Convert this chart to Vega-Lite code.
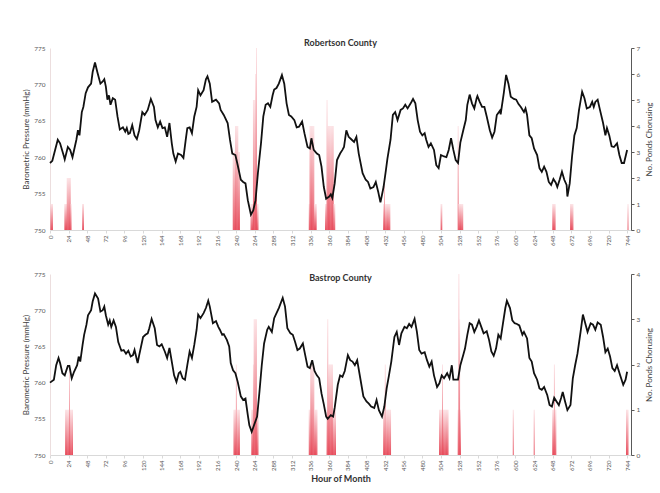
{
  "$schema": "https://vega.github.io/schema/vega-lite/v6.json",
  "background": "white",
  "padding": {"left": 22, "top": 39, "right": 0, "bottom": 0},
  "config": {
    "view": {"stroke": null},
    "font": "Lato",
    "axis": {"grid": false, "labelFont": "Lato", "titleFont": "Lato"},
    "title": {"font": "Lato", "fontSize": 9, "fontWeight": "bold", "color": "#333333"}
  },
  "spacing": 25,
  "datasets": {
    "rob_p": [
      {"h":0,"p":759.2},{"h":3,"p":759.5},{"h":10,"p":762.4},{"h":13,"p":761.9},{"h":18,"p":760.1},{"h":19,"p":759.7},{"h":23,"p":761.4},{"h":26,"p":761.0},{"h":29,"p":760.0},{"h":34,"p":762.4},{"h":36,"p":763.7},{"h":38,"p":763.0},{"h":41,"p":766.2},{"h":43,"p":766.9},{"h":46,"p":768.8},{"h":49,"p":769.6},{"h":53,"p":770.1},{"h":55,"p":771.7},{"h":58,"p":773.0},{"h":61,"p":771.7},{"h":65,"p":770.1},{"h":68,"p":770.4},{"h":70,"p":770.7},{"h":72,"p":769.7},{"h":74,"p":767.9},{"h":76,"p":768.5},{"h":78,"p":767.2},{"h":81,"p":768.1},{"h":84,"p":767.9},{"h":87,"p":765.6},{"h":90,"p":763.8},{"h":94,"p":764.1},{"h":97,"p":763.5},{"h":99,"p":764.0},{"h":101,"p":763.2},{"h":103,"p":763.3},{"h":106,"p":764.4},{"h":109,"p":763.0},{"h":112,"p":762.5},{"h":115,"p":763.7},{"h":119,"p":766.2},{"h":122,"p":765.8},{"h":126,"p":766.5},{"h":130,"p":768.0},{"h":134,"p":766.9},{"h":136,"p":765.1},{"h":139,"p":764.1},{"h":142,"p":764.9},{"h":145,"p":764.0},{"h":148,"p":764.1},{"h":151,"p":762.8},{"h":154,"p":764.7},{"h":157,"p":761.9},{"h":159,"p":760.5},{"h":162,"p":759.4},{"h":165,"p":760.5},{"h":169,"p":760.3},{"h":172,"p":759.9},{"h":175,"p":762.4},{"h":177,"p":764.0},{"h":180,"p":764.1},{"h":183,"p":763.3},{"h":186,"p":765.6},{"h":189,"p":766.9},{"h":191,"p":769.2},{"h":194,"p":768.5},{"h":198,"p":769.2},{"h":201,"p":770.7},{"h":203,"p":771.1},{"h":206,"p":770.1},{"h":209,"p":767.6},{"h":214,"p":767.9},{"h":218,"p":767.4},{"h":220,"p":766.5},{"h":224,"p":765.8},{"h":229,"p":764.7},{"h":232,"p":762.4},{"h":235,"p":760.5},{"h":239,"p":760.3},{"h":242,"p":758.9},{"h":246,"p":756.9},{"h":249,"p":756.6},{"h":252,"p":756.4},{"h":255,"p":754.1},{"h":259,"p":752.1},{"h":262,"p":752.7},{"h":265,"p":754.1},{"h":268,"p":757.8},{"h":272,"p":761.9},{"h":275,"p":765.6},{"h":278,"p":767.2},{"h":281,"p":767.4},{"h":284,"p":766.9},{"h":287,"p":768.5},{"h":289,"p":769.3},{"h":292,"p":769.5},{"h":295,"p":770.1},{"h":299,"p":771.3},{"h":302,"p":770.1},{"h":305,"p":767.4},{"h":308,"p":765.8},{"h":311,"p":765.6},{"h":315,"p":765.1},{"h":318,"p":764.1},{"h":321,"p":764.2},{"h":325,"p":764.9},{"h":328,"p":763.3},{"h":332,"p":761.4},{"h":335,"p":761.2},{"h":337,"p":762.6},{"h":340,"p":761.0},{"h":344,"p":760.5},{"h":347,"p":760.3},{"h":350,"p":758.7},{"h":353,"p":755.9},{"h":356,"p":754.3},{"h":360,"p":754.6},{"h":362,"p":754.9},{"h":364,"p":754.4},{"h":367,"p":756.4},{"h":370,"p":759.6},{"h":374,"p":760.5},{"h":377,"p":761.0},{"h":379,"p":761.4},{"h":382,"p":763.7},{"h":385,"p":762.8},{"h":388,"p":762.5},{"h":392,"p":762.1},{"h":395,"p":762.8},{"h":398,"p":760.5},{"h":403,"p":757.8},{"h":407,"p":756.9},{"h":410,"p":756.6},{"h":413,"p":755.7},{"h":417,"p":755.9},{"h":420,"p":756.6},{"h":423,"p":755.3},{"h":426,"p":753.8},{"h":430,"p":755.9},{"h":433,"p":758.2},{"h":435,"p":759.8},{"h":439,"p":762.4},{"h":442,"p":765.8},{"h":445,"p":766.2},{"h":448,"p":765.1},{"h":452,"p":766.5},{"h":455,"p":766.7},{"h":458,"p":767.2},{"h":461,"p":766.7},{"h":465,"p":767.4},{"h":468,"p":768.0},{"h":471,"p":767.4},{"h":474,"p":765.1},{"h":477,"p":763.5},{"h":480,"p":763.0},{"h":483,"p":763.3},{"h":485,"p":762.4},{"h":488,"p":761.4},{"h":491,"p":761.9},{"h":495,"p":761.0},{"h":498,"p":758.9},{"h":501,"p":758.5},{"h":504,"p":760.3},{"h":508,"p":760.1},{"h":511,"p":760.0},{"h":514,"p":761.0},{"h":517,"p":762.6},{"h":520,"p":761.0},{"h":523,"p":759.6},{"h":526,"p":759.2},{"h":529,"p":762.0},{"h":533,"p":763.8},{"h":536,"p":765.1},{"h":538,"p":767.2},{"h":541,"p":768.6},{"h":544,"p":767.4},{"h":547,"p":766.7},{"h":550,"p":768.1},{"h":551,"p":768.4},{"h":554,"p":767.6},{"h":557,"p":766.9},{"h":560,"p":766.9},{"h":563,"p":765.6},{"h":567,"p":763.7},{"h":570,"p":762.7},{"h":573,"p":763.5},{"h":576,"p":765.8},{"h":580,"p":766.4},{"h":581,"p":765.9},{"h":585,"p":768.8},{"h":588,"p":771.3},{"h":591,"p":770.1},{"h":594,"p":768.3},{"h":598,"p":768.0},{"h":601,"p":767.9},{"h":604,"p":767.3},{"h":607,"p":766.9},{"h":611,"p":766.2},{"h":613,"p":766.7},{"h":615,"p":765.8},{"h":618,"p":763.0},{"h":621,"p":762.6},{"h":624,"p":761.2},{"h":628,"p":760.3},{"h":631,"p":758.5},{"h":634,"p":758.0},{"h":637,"p":758.7},{"h":640,"p":758.0},{"h":643,"p":756.6},{"h":646,"p":756.2},{"h":649,"p":757.0},{"h":652,"p":756.5},{"h":654,"p":755.9},{"h":657,"p":756.9},{"h":660,"p":758.0},{"h":663,"p":756.9},{"h":666,"p":756.2},{"h":667,"p":754.6},{"h":670,"p":756.4},{"h":673,"p":760.1},{"h":676,"p":763.0},{"h":679,"p":764.0},{"h":682,"p":766.5},{"h":686,"p":769.0},{"h":689,"p":768.1},{"h":692,"p":766.7},{"h":696,"p":766.9},{"h":699,"p":767.6},{"h":701,"p":766.9},{"h":703,"p":767.6},{"h":706,"p":767.9},{"h":709,"p":766.5},{"h":713,"p":764.7},{"h":716,"p":763.0},{"h":718,"p":764.0},{"h":721,"p":763.0},{"h":724,"p":761.5},{"h":727,"p":761.4},{"h":731,"p":761.9},{"h":734,"p":760.3},{"h":737,"p":759.2},{"h":740,"p":759.2},{"h":744,"p":761.0}
    ],
    "bas_p": [
      {"h":0,"p":760.0},{"h":5,"p":760.4},{"h":8,"p":762.4},{"h":11,"p":763.4},{"h":13,"p":762.7},{"h":16,"p":761.3},{"h":19,"p":761.0},{"h":23,"p":762.3},{"h":25,"p":762.3},{"h":28,"p":760.6},{"h":31,"p":761.5},{"h":35,"p":762.4},{"h":37,"p":763.6},{"h":39,"p":762.9},{"h":42,"p":765.2},{"h":44,"p":766.6},{"h":47,"p":768.0},{"h":49,"p":769.3},{"h":53,"p":770.0},{"h":55,"p":771.2},{"h":58,"p":772.3},{"h":62,"p":771.6},{"h":65,"p":769.8},{"h":68,"p":770.0},{"h":70,"p":770.5},{"h":72,"p":769.3},{"h":75,"p":768.0},{"h":77,"p":768.6},{"h":79,"p":767.7},{"h":82,"p":768.6},{"h":85,"p":767.7},{"h":88,"p":765.6},{"h":92,"p":764.4},{"h":95,"p":764.5},{"h":98,"p":764.0},{"h":101,"p":764.4},{"h":104,"p":763.6},{"h":107,"p":763.8},{"h":109,"p":764.5},{"h":113,"p":762.7},{"h":115,"p":763.8},{"h":120,"p":766.3},{"h":123,"p":766.6},{"h":126,"p":766.8},{"h":128,"p":767.5},{"h":131,"p":768.8},{"h":135,"p":767.5},{"h":138,"p":765.2},{"h":141,"p":765.0},{"h":144,"p":765.3},{"h":148,"p":764.3},{"h":151,"p":763.4},{"h":154,"p":764.8},{"h":157,"p":762.9},{"h":160,"p":761.0},{"h":163,"p":760.1},{"h":166,"p":761.3},{"h":168,"p":761.5},{"h":171,"p":760.6},{"h":174,"p":760.4},{"h":177,"p":762.4},{"h":180,"p":764.3},{"h":183,"p":763.4},{"h":186,"p":765.2},{"h":189,"p":767.3},{"h":191,"p":769.4},{"h":194,"p":768.9},{"h":198,"p":769.6},{"h":201,"p":770.3},{"h":204,"p":771.3},{"h":206,"p":770.5},{"h":210,"p":768.2},{"h":214,"p":768.5},{"h":217,"p":767.7},{"h":219,"p":767.3},{"h":222,"p":766.6},{"h":224,"p":766.7},{"h":228,"p":765.9},{"h":231,"p":765.0},{"h":233,"p":762.7},{"h":236,"p":761.7},{"h":239,"p":761.3},{"h":242,"p":760.1},{"h":246,"p":758.1},{"h":249,"p":757.6},{"h":252,"p":757.8},{"h":255,"p":755.5},{"h":257,"p":754.1},{"h":260,"p":753.2},{"h":263,"p":754.1},{"h":267,"p":755.3},{"h":270,"p":758.7},{"h":273,"p":762.4},{"h":276,"p":765.4},{"h":280,"p":767.3},{"h":282,"p":767.7},{"h":286,"p":767.0},{"h":289,"p":768.9},{"h":292,"p":769.6},{"h":295,"p":770.3},{"h":300,"p":771.7},{"h":303,"p":770.5},{"h":306,"p":767.5},{"h":310,"p":766.8},{"h":313,"p":766.6},{"h":316,"p":765.6},{"h":319,"p":764.5},{"h":322,"p":764.7},{"h":326,"p":765.4},{"h":329,"p":763.8},{"h":332,"p":762.2},{"h":335,"p":762.0},{"h":338,"p":763.1},{"h":341,"p":761.6},{"h":344,"p":761.0},{"h":347,"p":760.6},{"h":350,"p":758.5},{"h":353,"p":757.0},{"h":356,"p":755.3},{"h":358,"p":755.0},{"h":362,"p":755.5},{"h":365,"p":755.3},{"h":367,"p":756.5},{"h":371,"p":759.7},{"h":374,"p":761.0},{"h":377,"p":760.8},{"h":380,"p":761.6},{"h":384,"p":763.8},{"h":387,"p":763.1},{"h":390,"p":762.9},{"h":393,"p":762.4},{"h":396,"p":763.1},{"h":400,"p":760.6},{"h":404,"p":758.1},{"h":408,"p":757.4},{"h":411,"p":757.1},{"h":414,"p":756.7},{"h":418,"p":756.5},{"h":421,"p":757.6},{"h":424,"p":756.2},{"h":428,"p":755.3},{"h":431,"p":756.7},{"h":434,"p":759.2},{"h":437,"p":761.0},{"h":440,"p":762.9},{"h":444,"p":766.3},{"h":447,"p":767.0},{"h":450,"p":765.2},{"h":453,"p":766.8},{"h":457,"p":767.7},{"h":460,"p":767.5},{"h":463,"p":768.1},{"h":466,"p":767.7},{"h":470,"p":768.8},{"h":473,"p":767.0},{"h":476,"p":764.5},{"h":479,"p":764.0},{"h":483,"p":764.2},{"h":486,"p":763.1},{"h":489,"p":762.2},{"h":492,"p":762.9},{"h":495,"p":761.0},{"h":499,"p":759.4},{"h":502,"p":759.9},{"h":505,"p":761.0},{"h":508,"p":760.6},{"h":512,"p":761.3},{"h":515,"p":760.6},{"h":518,"p":762.4},{"h":520,"p":760.4},{"h":526,"p":760.4},{"h":529,"p":762.4},{"h":533,"p":763.9},{"h":535,"p":764.7},{"h":538,"p":766.6},{"h":541,"p":768.2},{"h":544,"p":768.0},{"h":547,"p":767.0},{"h":550,"p":767.7},{"h":553,"p":768.6},{"h":556,"p":767.7},{"h":559,"p":766.8},{"h":563,"p":767.1},{"h":566,"p":765.9},{"h":569,"p":764.3},{"h":572,"p":763.7},{"h":575,"p":764.7},{"h":578,"p":766.6},{"h":581,"p":766.1},{"h":584,"p":768.2},{"h":587,"p":770.3},{"h":589,"p":771.3},{"h":593,"p":770.3},{"h":596,"p":768.6},{"h":599,"p":768.2},{"h":602,"p":768.1},{"h":605,"p":767.9},{"h":609,"p":766.6},{"h":611,"p":767.0},{"h":615,"p":766.1},{"h":618,"p":763.4},{"h":621,"p":762.9},{"h":624,"p":761.3},{"h":628,"p":760.4},{"h":631,"p":759.2},{"h":634,"p":759.0},{"h":637,"p":759.4},{"h":641,"p":758.3},{"h":644,"p":756.9},{"h":647,"p":756.7},{"h":650,"p":757.9},{"h":653,"p":757.4},{"h":656,"p":756.9},{"h":659,"p":757.9},{"h":661,"p":758.7},{"h":664,"p":757.4},{"h":667,"p":756.2},{"h":671,"p":756.9},{"h":674,"p":760.6},{"h":677,"p":762.4},{"h":680,"p":764.0},{"h":684,"p":767.0},{"h":687,"p":769.4},{"h":690,"p":768.2},{"h":693,"p":767.0},{"h":697,"p":768.2},{"h":700,"p":768.0},{"h":703,"p":767.3},{"h":706,"p":768.3},{"h":710,"p":768.0},{"h":713,"p":766.3},{"h":716,"p":764.2},{"h":719,"p":764.7},{"h":722,"p":763.6},{"h":725,"p":762.0},{"h":728,"p":761.6},{"h":731,"p":762.4},{"h":735,"p":761.0},{"h":739,"p":759.7},{"h":742,"p":760.4},{"h":744,"p":761.5}
    ],
    "rob_n": [
      {"h":0,"n":1},{"h":1,"n":1},{"h":2,"n":1},
      {"h":18,"n":1},{"h":19,"n":1},{"h":20,"n":1},{"h":21,"n":2},{"h":22,"n":2},{"h":23,"n":2},{"h":24,"n":2},{"h":25,"n":2},{"h":26,"n":1},
      {"h":41,"n":1},{"h":42,"n":1},
      {"h":235,"n":3},{"h":236,"n":3},{"h":237,"n":3},{"h":238,"n":4},{"h":239,"n":4},{"h":240,"n":4},{"h":241,"n":4},{"h":242,"n":3},{"h":243,"n":3},
      {"h":258,"n":1},{"h":259,"n":1},{"h":260,"n":1},{"h":261,"n":5},{"h":262,"n":5},{"h":263,"n":5},{"h":264,"n":6},{"h":265,"n":7},{"h":266,"n":1},{"h":267,"n":1},
      {"h":333,"n":1},{"h":334,"n":4},{"h":335,"n":4},{"h":336,"n":4},{"h":337,"n":4},{"h":338,"n":4},{"h":339,"n":4},{"h":340,"n":1},{"h":341,"n":1},{"h":342,"n":1},
      {"h":354,"n":1},{"h":355,"n":1},{"h":356,"n":5},{"h":357,"n":4},{"h":358,"n":4},{"h":359,"n":4},{"h":360,"n":4},{"h":361,"n":4},{"h":362,"n":4},{"h":363,"n":4},{"h":364,"n":4},{"h":365,"n":1},{"h":366,"n":1},
      {"h":429,"n":1},{"h":430,"n":2},{"h":431,"n":1},{"h":432,"n":1},{"h":433,"n":1},{"h":434,"n":1},{"h":435,"n":1},{"h":436,"n":1},{"h":437,"n":1},
      {"h":503,"n":1},{"h":504,"n":1},
      {"h":525,"n":4},{"h":526,"n":1},{"h":527,"n":1},{"h":528,"n":1},{"h":529,"n":1},{"h":530,"n":1},{"h":531,"n":1},
      {"h":647,"n":1},{"h":648,"n":1},{"h":649,"n":1},{"h":650,"n":1},
      {"h":670,"n":1},{"h":671,"n":1},{"h":672,"n":1},{"h":673,"n":1},
      {"h":744,"n":1}
    ],
    "bas_n": [
      {"h":19,"n":1},{"h":20,"n":1},{"h":21,"n":1},{"h":22,"n":1},{"h":23,"n":1},{"h":24,"n":2},{"h":25,"n":1},{"h":26,"n":1},{"h":27,"n":1},{"h":28,"n":1},
      {"h":236,"n":1},{"h":237,"n":1},{"h":238,"n":1},{"h":239,"n":2},{"h":240,"n":1},{"h":241,"n":1},{"h":242,"n":1},{"h":243,"n":1},
      {"h":259,"n":1},{"h":260,"n":1},{"h":261,"n":2},{"h":262,"n":3},{"h":263,"n":3},{"h":264,"n":3},{"h":265,"n":3},{"h":266,"n":1},{"h":267,"n":1},
      {"h":333,"n":1},{"h":334,"n":1},{"h":335,"n":2},{"h":336,"n":2},{"h":337,"n":2},{"h":338,"n":2},{"h":339,"n":2},{"h":340,"n":1},{"h":341,"n":1},{"h":342,"n":1},{"h":343,"n":1},
      {"h":356,"n":1},{"h":357,"n":3},{"h":358,"n":2},{"h":359,"n":2},{"h":360,"n":2},{"h":361,"n":2},{"h":362,"n":2},{"h":363,"n":2},{"h":364,"n":1},{"h":365,"n":1},{"h":366,"n":1},{"h":367,"n":1},
      {"h":429,"n":1},{"h":430,"n":1},{"h":431,"n":2},{"h":432,"n":1},{"h":433,"n":1},{"h":434,"n":1},{"h":435,"n":1},{"h":436,"n":1},{"h":437,"n":1},{"h":438,"n":1},
      {"h":501,"n":1},{"h":502,"n":1},{"h":503,"n":1},{"h":504,"n":1},{"h":505,"n":2},{"h":506,"n":1},{"h":507,"n":1},{"h":508,"n":1},{"h":509,"n":1},{"h":510,"n":1},{"h":511,"n":1},{"h":512,"n":1},
      {"h":525,"n":1},{"h":526,"n":4},{"h":527,"n":3},{"h":528,"n":1},
      {"h":596,"n":1},
      {"h":623,"n":1},
      {"h":647,"n":1},{"h":648,"n":1},{"h":649,"n":2},{"h":650,"n":1},{"h":651,"n":1},
      {"h":742,"n":1},{"h":743,"n":1},{"h":744,"n":1}
    ]
  },
  "vconcat": [
    {
      "width": 581,
      "height": 182,
      "title": {"text": "Robertson County", "offset": -3},
      "layer": [
        {
          "data": {"name": "rob_n"},
          "mark": {"type": "bar", "binSpacing": 0, "color": {"gradient": "linear", "x1": 0, "y1": 1, "x2": 0, "y2": 0, "stops": [{"offset": 0, "color": "#e2273a"}, {"offset": 1, "color": "#fbdde0"}]}},
          "encoding": {
            "x": {"field": "h", "type": "quantitative", "bin": {"binned": true, "step": 1}, "scale": {"domain": [0, 749]},
              "axis": {"title": null, "values": [0,24,48,72,96,120,144,168,192,216,240,264,288,312,336,360,384,408,432,456,480,504,528,552,576,600,624,648,672,696,720,744], "labelAngle": -90, "labelFontSize": 6, "labelColor": "#595959", "domainColor": "#d9d9d9", "tickColor": "#d9d9d9", "tickSize": 3, "labelPadding": 2, "labelFlush": false, "labelOverlap": false, "labelBound": false}},
            "y": {"field": "n", "type": "quantitative", "scale": {"domain": [0, 7]},
              "axis": {"orient": "right", "values": [0,1,2,3,4,5,6,7], "title": "No. Ponds Chorusing", "titleAngle": 270, "titleBaseline": "top", "titleFontSize": 8, "titleFontWeight": "normal", "titleColor": "#404040", "labelFontSize": 6.5, "labelColor": "#595959", "domainColor": "#595959", "tickColor": "#595959", "tickSize": 3, "labelPadding": 2, "titlePadding": 6}}
          }
        },
        {
          "data": {"name": "rob_p"},
          "mark": {"type": "line", "color": "#111111", "strokeWidth": 1.8},
          "encoding": {
            "x": {"field": "h", "type": "quantitative", "scale": {"domain": [0, 749]},
              "axis": {"title": null, "values": [0,24,48,72,96,120,144,168,192,216,240,264,288,312,336,360,384,408,432,456,480,504,528,552,576,600,624,648,672,696,720,744], "labelAngle": -90, "labelFontSize": 6, "labelColor": "#595959", "domainColor": "#d9d9d9", "tickColor": "#d9d9d9", "tickSize": 3, "labelPadding": 2, "labelFlush": false, "labelOverlap": false, "labelBound": false}},
            "y": {"field": "p", "type": "quantitative", "scale": {"domain": [750, 775]},
              "axis": {"orient": "left", "values": [750,755,760,765,770,775], "title": "Barometric Pressure (mmHg)", "titleFontSize": 8, "titleFontWeight": "normal", "titleColor": "#404040", "labelFontSize": 6.5, "labelColor": "#595959", "ticks": false, "domainColor": "#ecdede", "labelPadding": 5, "titlePadding": 3}}
          }
        }
      ],
      "resolve": {"scale": {"y": "independent"}}
    },
    {
      "width": 581,
      "height": 181,
      "title": {"text": "Bastrop County", "offset": 4, "dy": 16},
      "layer": [
        {
          "data": {"name": "bas_n"},
          "mark": {"type": "bar", "binSpacing": 0, "color": {"gradient": "linear", "x1": 0, "y1": 1, "x2": 0, "y2": 0, "stops": [{"offset": 0, "color": "#e2273a"}, {"offset": 1, "color": "#fbdde0"}]}},
          "encoding": {
            "x": {"field": "h", "type": "quantitative", "bin": {"binned": true, "step": 1}, "scale": {"domain": [0, 749]},
              "axis": {"title": "Hour of Month", "titleFontSize": 9, "titleFontWeight": "bold", "titleColor": "#333333", "titlePadding": 4, "values": [0,24,48,72,96,120,144,168,192,216,240,264,288,312,336,360,384,408,432,456,480,504,528,552,576,600,624,648,672,696,720,744], "labelAngle": -90, "labelFontSize": 6, "labelColor": "#595959", "domainColor": "#d9d9d9", "tickColor": "#d9d9d9", "tickSize": 3, "labelPadding": 2, "labelFlush": false, "labelOverlap": false, "labelBound": false}},
            "y": {"field": "n", "type": "quantitative", "scale": {"domain": [0, 4]},
              "axis": {"orient": "right", "values": [0,1,2,3,4], "title": "No. Ponds Chorusing", "titleAngle": 270, "titleBaseline": "top", "titleFontSize": 8, "titleFontWeight": "normal", "titleColor": "#404040", "labelFontSize": 6.5, "labelColor": "#595959", "domainColor": "#595959", "tickColor": "#595959", "tickSize": 3, "labelPadding": 2, "titlePadding": 6}}
          }
        },
        {
          "data": {"name": "bas_p"},
          "mark": {"type": "line", "color": "#111111", "strokeWidth": 1.8},
          "encoding": {
            "x": {"field": "h", "type": "quantitative", "scale": {"domain": [0, 749]},
              "axis": {"title": "Hour of Month", "titleFontSize": 9, "titleFontWeight": "bold", "titleColor": "#333333", "titlePadding": 4, "values": [0,24,48,72,96,120,144,168,192,216,240,264,288,312,336,360,384,408,432,456,480,504,528,552,576,600,624,648,672,696,720,744], "labelAngle": -90, "labelFontSize": 6, "labelColor": "#595959", "domainColor": "#d9d9d9", "tickColor": "#d9d9d9", "tickSize": 3, "labelPadding": 2, "labelFlush": false, "labelOverlap": false, "labelBound": false}},
            "y": {"field": "p", "type": "quantitative", "scale": {"domain": [750, 775]},
              "axis": {"orient": "left", "values": [750,755,760,765,770,775], "title": "Barometric Pressure (mmHg)", "titleFontSize": 8, "titleFontWeight": "normal", "titleColor": "#404040", "labelFontSize": 6.5, "labelColor": "#595959", "ticks": false, "domainColor": "#ecdede", "labelPadding": 5, "titlePadding": 3}}
          }
        }
      ],
      "resolve": {"scale": {"y": "independent"}}
    }
  ]
}
